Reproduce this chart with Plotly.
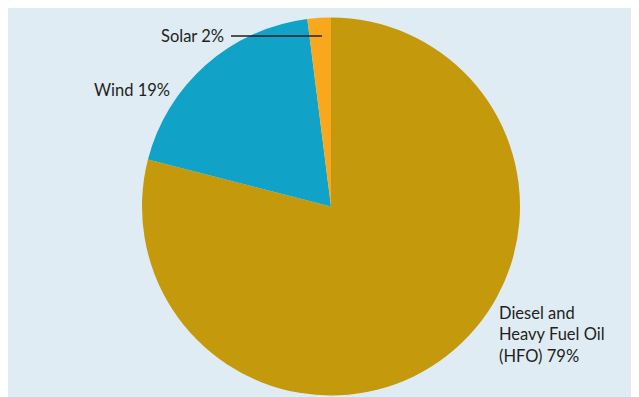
import plotly.graph_objects as go

categories = ["Diesel and Heavy Fuel Oil (HFO)", "Wind", "Solar"]
label_lines = ["Diesel and<br>Heavy Fuel Oil<br>(HFO)", "Wind", "Solar"]
values = [79, 19, 2]
colors = ["#c4990c", "#10a2c7", "#f8a81d"]

W, H = 639, 397
OX, OY = 8, 8  # page margin offset of the reference
def px(x):
    return (x - OX) / W
def py(y):
    return 1 - (y - OY) / H

fig = go.Figure()
fig.add_trace(go.Pie(
    labels=categories, values=values, sort=False, direction="clockwise",
    rotation=0, marker=dict(colors=colors, line=dict(width=0)),
    textinfo="none", showlegend=False,
    domain=dict(x=[px(142), px(520)], y=[py(396), py(17)]),
))

font = dict(family="Lato, Open Sans, sans-serif", size=16.5, color="#231f20")
fig.add_shape(type="line", xref="paper", yref="paper", x0=px(231), x1=px(322), y0=py(36), y1=py(36),
              line=dict(color="#231f20", width=1.5))
fig.add_annotation(x=px(226), y=py(36), xref="paper", yref="paper", xanchor="right", yanchor="middle",
                   text=f"{label_lines[2]} {values[2]}%", showarrow=False, font=font)
fig.add_annotation(x=px(92), y=py(90), xref="paper", yref="paper", xanchor="left", yanchor="middle",
                   text=f"{label_lines[1]} {values[1]}%", showarrow=False, font=font)
fig.add_annotation(x=px(497), y=py(334), xref="paper", yref="paper", xanchor="left", yanchor="middle",
                   align="left", text=f"{label_lines[0]} {values[0]}%", showarrow=False, font=font)

fig.update_layout(width=W, height=H, margin=dict(l=0, r=0, t=0, b=0),
                  paper_bgcolor="#dfecf4", plot_bgcolor="#dfecf4")
fig.write_html("out.html")
